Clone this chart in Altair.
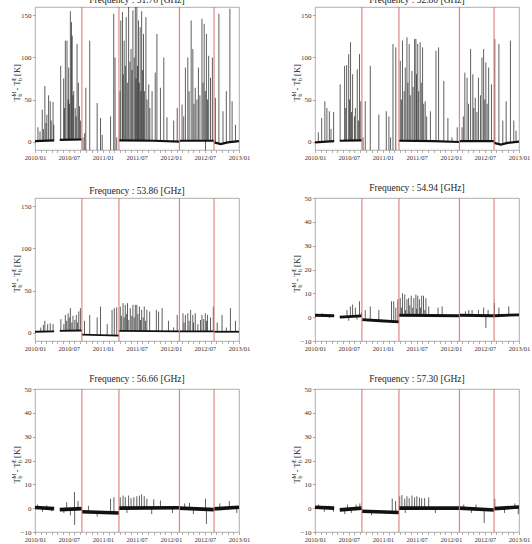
import altair as alt
import pandas as pd

SERIF = "Liberation Serif"

FREQUENCIES = ["51.76", "52.80", "53.86", "54.94", "56.66", "57.30"]
Y_RANGES = [(-10, 160), (-10, 160), (-10, 160), (-10, 50), (-10, 50), (-10, 50)]
Y_TICKS = [[0, 50, 100, 150]] * 3 + [[-10, 0, 10, 20, 30, 40, 50]] * 3
EVENT_DATES = ["2010-09-10", "2011-03-28", "2012-02-16", "2012-08-20"]

# Baseline level of each channel: (segment, date, level)
BASE_5176 = [
    (0, "2010-01-01", 0.5), (0, "2010-04-14", 1.5),
    (1, "2010-05-14", 2.0), (1, "2010-09-10", 2.5),
    (2, "2010-09-10", -15), (2, "2011-03-28", -15),
    (3, "2011-03-28", 1.5), (3, "2011-10-01", 1.0), (3, "2012-02-16", 0.0),
    (4, "2012-02-16", 1.0), (4, "2012-08-20", 1.0),
    (5, "2012-08-20", -1.0), (5, "2012-09-25", -3.0), (5, "2012-11-01", -1.0), (5, "2013-01-01", 0.5),
]
BASE_5280 = [
    (0, "2010-01-01", -1.0), (0, "2010-04-14", 0.5),
    (1, "2010-05-14", 1.0), (1, "2010-09-10", 1.5),
    (2, "2010-09-10", -15), (2, "2011-03-28", -15),
    (3, "2011-03-28", 1.0), (3, "2011-10-01", 0.5), (3, "2012-02-16", -0.5),
    (4, "2012-02-16", 0.5), (4, "2012-08-20", 0.5),
    (5, "2012-08-20", -1.5), (5, "2012-09-25", -3.5), (5, "2012-11-01", -1.5), (5, "2013-01-01", 0.0),
]
BASE_5386 = [
    (0, "2010-01-01", 1.0), (0, "2010-04-14", 1.5),
    (1, "2010-05-14", 2.0), (1, "2010-09-10", 2.5),
    (2, "2010-09-10", -2.5), (2, "2011-03-28", -3.5),
    (3, "2011-03-28", 2.0), (3, "2012-02-16", 1.5),
    (4, "2012-02-16", 1.5), (4, "2012-08-20", 1.5),
    (5, "2012-08-20", 1.0), (5, "2013-01-01", 1.0),
]
BASE_5494 = [
    (0, "2010-01-01", 0.8), (0, "2010-04-14", 0.6),
    (1, "2010-05-14", 0.0), (1, "2010-09-10", 0.5),
    (2, "2010-09-10", -1.0), (2, "2010-12-15", -1.5), (2, "2011-03-28", -2.0),
    (3, "2011-03-28", 0.8), (3, "2012-02-16", 0.6),
    (4, "2012-02-16", 0.8), (4, "2012-08-20", 0.6),
    (5, "2012-08-20", 0.6), (5, "2013-01-01", 1.0),
]
BASE_5666 = [
    (0, "2010-01-01", 0.3), (0, "2010-04-14", -0.2),
    (1, "2010-05-14", -0.6), (1, "2010-09-10", -0.2),
    (2, "2010-09-10", -1.5), (2, "2011-03-28", -2.0),
    (3, "2011-03-28", 0.0), (3, "2012-02-16", 0.2),
    (4, "2012-02-16", 0.0), (4, "2012-08-20", -0.6),
    (5, "2012-08-20", -0.3), (5, "2013-01-01", 0.4),
]
BASE_5730 = [
    (0, "2010-01-01", 0.4), (0, "2010-04-14", 0.0),
    (1, "2010-05-14", -0.7), (1, "2010-09-10", 0.0),
    (2, "2010-09-10", -1.3), (2, "2011-03-28", -1.8),
    (3, "2011-03-28", 0.0), (3, "2012-02-16", 0.0),
    (4, "2012-02-16", 0.0), (4, "2012-08-20", -0.8),
    (5, "2012-08-20", -0.2), (5, "2013-01-01", 0.5),
]

# Departures from the baseline: (date, value reached)
SPIKES_5176 = [
    ("2010-01-17", 17), ("2010-01-28", 12), ("2010-02-09", 38), ("2010-02-15", 15),
    ("2010-02-23", 66), ("2010-03-01", 22), ("2010-03-06", 32), ("2010-03-15", 55),
    ("2010-03-24", 48), ("2010-03-29", 25), ("2010-04-08", 47), ("2010-04-12", 20),
    ("2010-05-19", 90), ("2010-06-04", 75), ("2010-06-08", 40), ("2010-06-13", 120),
    ("2010-06-22", 120), ("2010-06-28", 50), ("2010-07-01", 88), ("2010-07-05", 45),
    ("2010-07-10", 155), ("2010-07-16", 142), ("2010-07-20", 126), ("2010-07-24", 55),
    ("2010-07-28", 60), ("2010-08-05", 40), ("2010-08-10", 30), ("2010-08-15", 116),
    ("2010-08-22", 70), ("2010-08-28", 42), ("2010-09-03", 25),
    ("2010-09-16", 5), ("2010-09-25", 10), ("2010-10-01", 64), ("2010-10-22", 120),
    ("2010-12-01", 46), ("2010-12-19", 28), ("2010-12-28", 8), ("2011-02-11", 30),
    ("2011-02-28", 152), ("2011-03-07", 100), ("2011-03-16", 5),
    ("2011-04-02", 60), ("2011-04-07", 144), ("2011-04-16", 154), ("2011-04-20", 80),
    ("2011-04-25", 120), ("2011-05-01", 90), ("2011-05-06", 148), ("2011-05-12", 70),
    ("2011-05-19", 160), ("2011-05-26", 95), ("2011-06-01", 110), ("2011-06-06", 85),
    ("2011-06-11", 156), ("2011-06-18", 100), ("2011-06-24", 162), ("2011-06-28", 75),
    ("2011-07-02", 160), ("2011-07-06", 90), ("2011-07-11", 144), ("2011-07-15", 70),
    ("2011-07-20", 136), ("2011-07-24", 60), ("2011-07-28", 155), ("2011-08-02", 85),
    ("2011-08-07", 128), ("2011-08-12", 60), ("2011-08-20", 148), ("2011-08-26", 50),
    ("2011-09-04", 68), ("2011-09-10", 40), ("2011-09-22", 60), ("2011-10-09", 82),
    ("2011-10-18", 128), ("2011-11-06", 64), ("2011-11-24", 100), ("2011-12-11", 29),
    ("2012-01-16", 25), ("2012-02-04", 40),
    ("2012-03-01", 44), ("2012-03-10", 30), ("2012-03-19", 88), ("2012-04-01", 100),
    ("2012-04-08", 60), ("2012-04-19", 144), ("2012-04-28", 110), ("2012-05-04", 45),
    ("2012-05-11", 64), ("2012-05-20", 50), ("2012-05-28", 88), ("2012-06-05", 55),
    ("2012-06-16", 146), ("2012-06-22", 70), ("2012-06-28", 140), ("2012-07-04", 60),
    ("2012-07-05", -10), ("2012-07-10", 128), ("2012-07-16", 50), ("2012-07-22", 102),
    ("2012-08-01", 76), ("2012-08-11", 100),
    ("2012-08-27", 52), ("2012-09-15", 152), ("2012-10-07", 36), ("2012-10-25", 60),
    ("2012-11-13", 158), ("2012-11-25", 48), ("2012-12-13", 20),
]
SPIKES_5280 = [
    ("2010-01-19", 11), ("2010-02-06", 28), ("2010-02-23", 48), ("2010-03-06", 40),
    ("2010-03-19", 36), ("2010-03-28", 15), ("2010-04-11", 35),
    ("2010-05-16", 68), ("2010-06-09", 90), ("2010-06-15", 40), ("2010-06-20", 91),
    ("2010-07-01", 104), ("2010-07-05", 50), ("2010-07-11", 118), ("2010-07-16", 35),
    ("2010-07-22", 80), ("2010-08-01", 30), ("2010-08-06", 40), ("2010-08-16", 86),
    ("2010-08-22", 25), ("2010-08-28", 104), ("2010-09-04", 48),
    ("2010-09-16", 5), ("2010-09-28", 48), ("2010-10-25", 90), ("2010-12-10", 32),
    ("2011-01-19", 36), ("2011-02-02", 30), ("2011-02-11", 5), ("2011-02-24", 116),
    ("2011-03-11", 112),
    ("2011-04-04", 96), ("2011-04-10", 50), ("2011-04-16", 120), ("2011-04-25", 60),
    ("2011-05-01", 88), ("2011-05-10", 124), ("2011-05-15", 70), ("2011-05-22", 116),
    ("2011-05-28", 55), ("2011-06-06", 84), ("2011-06-12", 65), ("2011-06-20", 122),
    ("2011-06-27", 122), ("2011-06-30", 80), ("2011-07-07", 116), ("2011-07-12", 60),
    ("2011-07-20", 118), ("2011-07-26", 70), ("2011-08-02", 112), ("2011-08-08", 45),
    ("2011-08-16", 48), ("2011-08-24", 30), ("2011-09-13", 36), ("2011-10-13", 108),
    ("2011-10-27", 112), ("2011-11-24", 72), ("2011-12-16", 28), ("2012-01-07", 5),
    ("2012-02-04", 17),
    ("2012-03-01", 17), ("2012-03-08", 30), ("2012-03-16", 82), ("2012-03-28", 76),
    ("2012-04-05", 45), ("2012-04-16", 110), ("2012-04-28", 80), ("2012-05-03", 40),
    ("2012-05-11", 52), ("2012-05-20", 35), ("2012-05-28", 76), ("2012-06-08", 55),
    ("2012-06-16", 100), ("2012-06-25", 110), ("2012-07-01", 50), ("2012-07-07", 94),
    ("2012-07-14", 45), ("2012-07-22", 88), ("2012-08-06", 68),
    ("2012-08-24", 122), ("2012-09-15", 116), ("2012-10-06", 25), ("2012-10-24", 48),
    ("2012-11-16", 120), ("2012-12-04", 25), ("2012-12-16", 13),
]
SPIKES_5386 = [
    ("2010-02-01", 6), ("2010-02-15", 9), ("2010-02-23", 14), ("2010-03-10", 10),
    ("2010-03-24", 11), ("2010-04-08", 10),
    ("2010-05-20", 16), ("2010-06-05", 10), ("2010-06-13", 21), ("2010-06-20", 14),
    ("2010-06-28", 23), ("2010-07-04", 18), ("2010-07-10", 29), ("2010-07-18", 12),
    ("2010-07-24", 20), ("2010-08-03", 15), ("2010-08-11", 21), ("2010-08-17", 12),
    ("2010-08-24", 25), ("2010-09-02", 29),
    ("2010-09-24", 14), ("2010-10-22", 21), ("2010-12-01", 18), ("2010-12-19", 31),
    ("2011-01-24", 10), ("2011-02-19", 27), ("2011-03-03", 29), ("2011-03-16", 30),
    ("2011-04-04", 31), ("2011-04-10", 20), ("2011-04-19", 35), ("2011-04-25", 18),
    ("2011-05-01", 33), ("2011-05-07", 22), ("2011-05-13", 35), ("2011-05-20", 15),
    ("2011-05-28", 29), ("2011-06-05", 20), ("2011-06-11", 33), ("2011-06-18", 18),
    ("2011-06-24", 33), ("2011-07-02", 33), ("2011-07-08", 22), ("2011-07-16", 31),
    ("2011-07-22", 15), ("2011-07-28", 27), ("2011-08-05", 18), ("2011-08-11", 31),
    ("2011-08-18", 14), ("2011-08-25", 27), ("2011-09-09", 25), ("2011-10-15", 27),
    ("2011-10-27", 25), ("2011-11-15", 29), ("2011-12-19", 14), ("2012-01-16", 6),
    ("2012-02-04", 21),
    ("2012-03-06", 23), ("2012-03-12", 12), ("2012-03-19", 21), ("2012-04-01", 23),
    ("2012-04-08", 14), ("2012-04-16", 27), ("2012-04-28", 21), ("2012-05-02", 12),
    ("2012-05-11", 23), ("2012-05-25", 10), ("2012-06-08", 15), ("2012-06-16", 21),
    ("2012-06-25", 16), ("2012-07-04", 23), ("2012-07-10", 14), ("2012-07-16", 21),
    ("2012-08-01", 18), ("2012-08-16", 31),
    ("2012-09-06", 12), ("2012-10-02", 21), ("2012-10-25", 6), ("2012-11-16", 29),
    ("2012-12-13", 14),
]
SPIKES_5494 = [
    ("2010-02-10", 1.6), ("2010-03-20", -0.3),
    ("2010-06-22", 3), ("2010-07-01", -1.5), ("2010-07-10", 4.5), ("2010-07-22", 5.3),
    ("2010-08-06", 4), ("2010-08-15", -1), ("2010-08-28", 6.7), ("2010-09-07", 2),
    ("2010-09-28", 3), ("2010-10-25", 4.5), ("2010-12-10", 3), ("2011-02-16", 6.7),
    ("2011-02-28", 6.7), ("2011-03-11", 4), ("2011-03-22", 7.5),
    ("2011-04-04", 8), ("2011-04-10", 4), ("2011-04-16", 10), ("2011-04-28", 9.5),
    ("2011-05-03", 3), ("2011-05-10", 7.5), ("2011-05-19", 8), ("2011-05-25", 5),
    ("2011-06-02", 9), ("2011-06-10", 4), ("2011-06-16", 8), ("2011-06-27", 9.5),
    ("2011-07-01", 3.5), ("2011-07-07", 9), ("2011-07-16", 7.5), ("2011-07-22", 4),
    ("2011-07-28", 9), ("2011-08-07", 9), ("2011-08-14", 3), ("2011-08-20", 8),
    ("2011-09-04", 4.5), ("2011-10-24", 4), ("2011-11-15", 4.5),
    ("2012-03-19", 2.5), ("2012-04-06", 3), ("2012-04-24", 3), ("2012-05-28", 3),
    ("2012-06-25", 4), ("2012-07-07", -4.5), ("2012-07-19", 3),
    ("2012-08-22", 6), ("2012-09-15", 4), ("2012-11-07", 4.5),
]
SPIKES_5666 = [
    ("2010-01-15", 1.5), ("2010-02-10", -1.5), ("2010-03-05", 1.2), ("2010-04-01", -1.3),
    ("2010-06-05", -2), ("2010-06-20", 2.5), ("2010-07-10", -3), ("2010-08-01", 6.8),
    ("2010-08-02", -7), ("2010-08-20", 3),
    ("2010-10-15", 1), ("2010-12-01", -3.5), ("2011-02-11", 4), ("2011-03-01", 4.6),
    ("2011-04-04", 4.6), ("2011-04-19", 5.3), ("2011-05-01", 4.6), ("2011-05-10", -2),
    ("2011-05-19", 5.3), ("2011-06-01", 4.2), ("2011-06-16", 4.6), ("2011-07-02", 5),
    ("2011-07-16", 5.3), ("2011-07-28", 5.8), ("2011-08-11", 5), ("2011-08-25", 4),
    ("2011-09-20", -2.5), ("2011-10-01", 3.7), ("2011-11-06", 3.2), ("2012-01-10", -2),
    ("2012-03-15", 2), ("2012-04-10", 2.2), ("2012-05-01", -2.5), ("2012-07-05", 4),
    ("2012-07-10", -6.6),
    ("2012-09-20", 2), ("2012-11-10", 3), ("2012-12-20", -2),
]
SPIKES_5730 = [
    ("2010-01-20", 1.5), ("2010-02-20", -1.5), ("2010-03-15", 1), ("2010-04-10", -1.5),
    ("2010-06-10", -2.5), ("2010-06-25", 1.5), ("2010-07-15", -2), ("2010-08-10", 1.5),
    ("2010-08-30", 2),
    ("2010-11-01", -3), ("2011-02-20", 4), ("2011-03-10", 3),
    ("2011-04-01", 5), ("2011-04-13", 5.5), ("2011-04-28", 4), ("2011-05-01", -2),
    ("2011-05-10", 5), ("2011-05-22", 4.2), ("2011-06-06", 5.3), ("2011-06-20", 4.5),
    ("2011-07-02", 5), ("2011-07-16", 4.5), ("2011-07-28", 4.2), ("2011-08-13", 4.2),
    ("2011-09-04", 4.5), ("2011-10-10", -2),
    ("2012-03-10", 1.5), ("2012-04-20", -2), ("2012-05-15", 1.5), ("2012-06-28", -6.2),
    ("2012-08-24", 4), ("2012-10-15", -2), ("2012-12-10", 2), ("2012-12-28", -2.5),
]

BASELINES = [BASE_5176, BASE_5280, BASE_5386, BASE_5494, BASE_5666, BASE_5730]
SPIKES = [SPIKES_5176, SPIKES_5280, SPIKES_5386, SPIKES_5494, SPIKES_5666, SPIKES_5730]
LINE_WIDTHS = [2.2, 2.2, 1.8, 2.8, 3.6, 3.6]

PANEL_W, PANEL_H = 204, 143
INK = "#222222"
EVENT_COLOR = "#e07070"


def spike_table(base_pts, spikes):
    base = pd.DataFrame(base_pts, columns=["seg", "date", "level"])
    base["t"] = pd.to_datetime(base["date"])
    rows = []
    for d, v in spikes:
        t = pd.Timestamp(d)
        inside = [s for s, g in base.groupby("seg") if g["t"].min() <= t <= g["t"].max()]
        g = base[base["seg"] == inside[0]]
        lvl = g.loc[(g["t"] - t).abs().idxmin(), "level"]
        rows.append({"date": d, "base": lvl, "value": v})
    return pd.DataFrame(rows)


def month_ticks():
    return [alt.DateTime(year=y, month=m, date=1, utc=True)
            for y in (2010, 2011, 2012) for m in range(1, 13)] + \
           [alt.DateTime(year=2013, month=1, date=1, utc=True)]


def y_title_layer():
    # T_b^M - T_b^E [K], set piece by piece along a rotated baseline
    pieces = [
        ("T", 0.0, 0.0, 8.5), ("b", 5.0, 2.0, 5.5), ("M", 5.0, -3.8, 5.5),
        ("- T", 11.0, 0.0, 8.5), ("b", 20.8, 2.0, 5.5), ("E", 20.8, -3.8, 5.5),
        ("[K]", 25.6, 0.0, 8.5),
    ]
    anchor = pd.DataFrame({"k": [0]})
    layers = []
    for txt, dx, dy, fs in pieces:
        layers.append(
            alt.Chart(anchor).mark_text(
                text=txt, angle=270, align="left", baseline="alphabetic",
                dx=dx, dy=dy, font=SERIF, fontSize=fs, color=INK,
            ).encode(x=alt.value(-15), y=alt.value(PANEL_H / 2 + 5 + 18))
        )
    return layers


def panel(i):
    lo, hi = Y_RANGES[i]
    xscale = alt.Scale(type="utc", domain=[
        alt.DateTime(year=2010, month=1, date=1, utc=True),
        alt.DateTime(year=2013, month=1, date=1, utc=True)])
    x = alt.X("date:T", scale=xscale, title=None, axis=alt.Axis(
        values=month_ticks(), labelOverlap=False, labelFlush=False, labelAlign="center",
        tickSize=2.5, labelPadding=2, labelFontSize=6.6,
        labelExpr="(utcFormat(datum.value, '%m') == '01' || utcFormat(datum.value, '%m') == '07') ? utcFormat(datum.value, '%Y/%m') : ''",
    ))
    yscale = alt.Scale(domain=[lo, hi], nice=False, zero=False)
    yaxis = alt.Axis(values=Y_TICKS[i], tickSize=2.5, labelPadding=1.5)

    base = pd.DataFrame(BASELINES[i], columns=["seg", "date", "level"])
    spikes = spike_table(BASELINES[i], SPIKES[i])
    events = pd.DataFrame({"date": EVENT_DATES})

    spike_layer = alt.Chart(spikes).mark_rule(
        clip=True, color="#000000", strokeWidth=0.7, opacity=0.9
    ).encode(x=x, y=alt.Y("base:Q", scale=yscale, axis=yaxis, title=None), y2="value:Q")

    base_layer = alt.Chart(base).mark_line(
        clip=True, color="#111111", strokeWidth=LINE_WIDTHS[i]
    ).encode(x=x, y=alt.Y("level:Q", scale=yscale, axis=yaxis, title=None), detail="seg:N")

    event_layer = alt.Chart(events).mark_rule(
        color=EVENT_COLOR, strokeWidth=1.2, opacity=0.85
    ).encode(x=x)

    return alt.layer(spike_layer, base_layer, event_layer, *y_title_layer()).properties(
        width=PANEL_W, height=PANEL_H,
        title=alt.TitleParams(f"Frequency : {FREQUENCIES[i]} [GHz]", font=SERIF,
                              fontSize=9.5, fontWeight="normal", color=INK, offset=2),
    )


chart = alt.concat(
    *[panel(i) for i in range(6)], columns=2,
    spacing=alt.RowColnumber(row=48, column=76), bounds="flush",
).properties(
    padding={"top": -6, "left": 11, "right": 0, "bottom": 0},
).configure_view(
    stroke="#9a9a9a", strokeWidth=0.8,
).configure_axis(
    grid=False, domain=False, labelFont=SERIF, labelFontSize=7, labelColor="#333333",
    tickColor="#777777", tickWidth=0.6,
).configure_title(anchor="middle")

chart.save("out.html", embed_options={"renderer": "svg", "actions": False})
